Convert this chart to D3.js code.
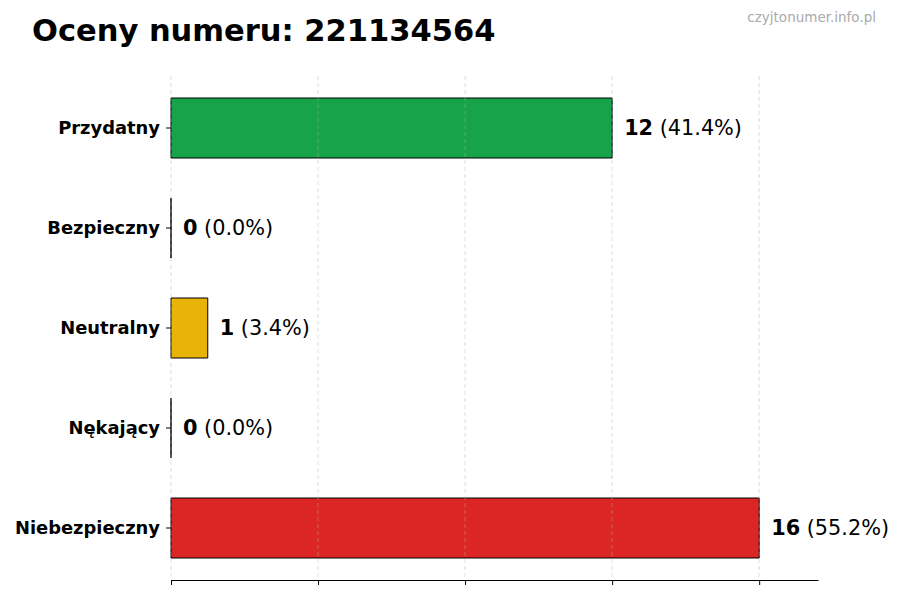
<!DOCTYPE html>
<html><head><meta charset="utf-8">
<script src="https://cdn.jsdelivr.net/npm/d3@7"></script>
<style>body{margin:0;background:#fff}svg{display:block}</style>
</head><body>
<svg id="chart" width="900" height="600"></svg>
<script>
const categories = ["Przydatny","Bezpieczny","Neutralny","Nękający","Niebezpieczny"];
const counts = [12, 0, 1, 0, 16];
const percents = ["41.4%","0.0%","3.4%","0.0%","55.2%"];
const colors = ["#16a34a","#9ca3af","#eab308","#f97316","#dc2626"];
const xTicks = [0,4,8,12,16];
const titleText = "Oceny numeru: 221134564";
const watermark = "czyjtonumer.info.pl";

const svg = d3.select("#chart");
const font = "DejaVu Sans, sans-serif";
const x0 = 171, x1 = 818, yTop = 76, yBot = 580;
const x = d3.scaleLinear().domain([0, d3.max(counts)*1.1]).range([x0, x1]);
const y = d3.scaleBand().domain(categories).range([78, 578]).paddingInner(0.4).paddingOuter(0.2);

svg.append("text").attr("x",32).attr("y",41).attr("font-family",font).attr("font-weight","bold")
  .attr("font-size",30.5).attr("fill","#000").text(titleText);
svg.append("text").attr("x",876).attr("y",22).attr("text-anchor","end").attr("font-family",font)
  .attr("font-size",13.5).attr("fill","#aaaaaa").text(watermark);

// bars
svg.selectAll("path.bar").data(categories).enter().append("path").attr("class","bar")
  .attr("d",(c,i)=>{const xs=x(0), w=x(counts[i])-x(0), yy=y(c), h=y.bandwidth();
    return `M${xs},${yy}h${w}v${h}h${-w}Z`;})
  .attr("fill",(c,i)=>colors[i]).attr("stroke","#000").attr("stroke-width",1);

// gridlines (above bars)
svg.append("g").selectAll("line").data(xTicks).enter().append("line")
  .attr("x1",d=>x(d)).attr("x2",d=>x(d)).attr("y1",yTop).attr("y2",yBot)
  .attr("stroke","#b0b0b0").attr("stroke-opacity",0.55).attr("stroke-width",0.8).attr("stroke-dasharray","4,3");

// bottom axis
const xAxis = d3.axisBottom(x).tickValues(xTicks).tickFormat("").tickSize(5).tickSizeOuter(0);
const gx = svg.append("g").attr("transform",`translate(0,${yBot})`).call(xAxis);
gx.select(".domain").attr("stroke","#000").attr("stroke-width",1);
gx.selectAll(".tick line").attr("stroke","#000").attr("stroke-width",1);

// left axis (ticks + labels, no spine)
const yAxis = d3.axisLeft(y).tickSize(5).tickPadding(6).tickSizeOuter(0);
const gy = svg.append("g").attr("transform",`translate(${x0},0)`).call(yAxis);
gy.select(".domain").remove();
gy.selectAll(".tick line").attr("stroke","#000");
gy.selectAll(".tick text").attr("font-family",font).attr("font-weight","bold").attr("font-size",17.9).attr("fill","#000");

// value labels
const lab = svg.selectAll("text.val").data(categories).enter().append("text").attr("class","val")
  .attr("x",(c,i)=>x(counts[i])+12).attr("y",c=>y(c)+y.bandwidth()/2).attr("dy","0.35em")
  .attr("font-family",font).attr("font-size",20.8).attr("fill","#000");
lab.append("tspan").attr("font-weight","bold").text((c,i)=>counts[i]);
lab.append("tspan").text((c,i)=>" ("+percents[i]+")");
</script>
</body></html>
